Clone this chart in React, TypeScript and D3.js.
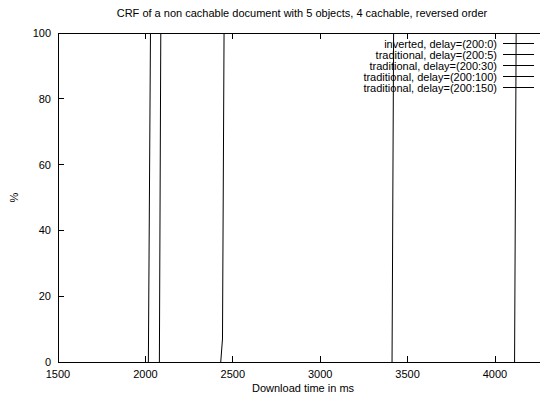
import React from "react";
import * as d3 from "d3";

const title = "CRF of a non cachable document with 5 objects, 4 cachable, reversed order";
const xLabel = "Download time in ms";
const yLabel = "%";
const xTicks = [1500, 2000, 2500, 3000, 3500, 4000];
const yTicks = [0, 20, 40, 60, 80, 100];
const seriesNames = [
  "inverted, delay=(200:0)",
  "traditional, delay=(200:5)",
  "traditional, delay=(200:30)",
  "traditional, delay=(200:100)",
  "traditional, delay=(200:150)",
];
const s1Time = [2017, 2029];
const s1Pct = [0, 100];
const s2Time = [2080, 2088];
const s2Pct = [0, 100];
const s3Time = [2431, 2441, 2450];
const s3Pct = [0, 7, 100];
const s4Time = [3411, 3420];
const s4Pct = [0, 100];
const s5Time = [4112, 4121];
const s5Pct = [0, 100];
const seriesTimes = [s1Time, s2Time, s3Time, s4Time, s5Time];
const seriesPcts = [s1Pct, s2Pct, s3Pct, s4Pct, s5Pct];

const W = 540;
const H = 394;
const left = 58;
const top = 33;
const bottom = 362;

export default function App() {
  const x = d3.scaleLinear().domain([1500, 4000]).range([left, 495]);
  const xMax = x.invert(545);
  const y = d3.scaleLinear().domain([0, 100]).range([bottom, top]);
  const line = d3
    .line<[number, number]>()
    .x((d) => x(d[0]))
    .y((d) => y(d[1]));
  const font = "'Liberation Sans', Arial, Helvetica, sans-serif";
  const right = x(xMax);
  return (
    <svg
      width={W}
      height={H}
      style={{ position: "absolute", left: 0, top: 0, background: "#fff" }}
      fontFamily={font}
    >
      <text x={302} y={17} fontSize={11} textAnchor="middle" fill="#000">
        {title}
      </text>
      <path
        d={`M${right},${top}H${left}V${bottom}H${right}`}
        fill="none"
        stroke="#000"
        strokeWidth={1}
        shapeRendering="crispEdges"
      />
      {xTicks.map((t) => (
        <g key={"xt" + t}>
          <line x1={x(t)} x2={x(t)} y1={bottom} y2={bottom - 6} stroke="#000" shapeRendering="crispEdges" />
          <line x1={x(t)} x2={x(t)} y1={top} y2={top + 6} stroke="#000" shapeRendering="crispEdges" />
          <text x={x(t)} y={378} fontSize={11} textAnchor="middle" fill="#000">
            {t}
          </text>
        </g>
      ))}
      {yTicks.map((t) => (
        <g key={"yt" + t}>
          <line x1={left} x2={left + 6} y1={y(t)} y2={y(t)} stroke="#000" shapeRendering="crispEdges" />
          <text x={51} y={y(t) + 4} fontSize={11} textAnchor="end" fill="#000">
            {t}
          </text>
        </g>
      ))}
      <text x={303} y={392} fontSize={11} textAnchor="middle" fill="#000">
        {xLabel}
      </text>
      <text
        x={0}
        y={0}
        fontSize={11}
        textAnchor="middle"
        fill="#000"
        transform={`translate(18,${(top + bottom) / 2}) rotate(-90)`}
      >
        {yLabel}
      </text>
      {seriesTimes.map((ts, i) => {
        const pts: [number, number][] = ts.map((t, j) => [t, seriesPcts[i][j]]);
        return (
          <path key={"s" + i} d={line(pts) || ""} fill="none" stroke="#000" strokeWidth={1} />
        );
      })}
      {seriesNames.map((n, i) => {
        const cy = 43.5 + i * 11;
        return (
          <g key={"lg" + i}>
            <text x={497} y={cy + 4} fontSize={11} textAnchor="end" fill="#000">
              {n}
            </text>
            <line x1={503} x2={534} y1={cy} y2={cy} stroke="#000" shapeRendering="crispEdges" />
          </g>
        );
      })}
    </svg>
  );
}
